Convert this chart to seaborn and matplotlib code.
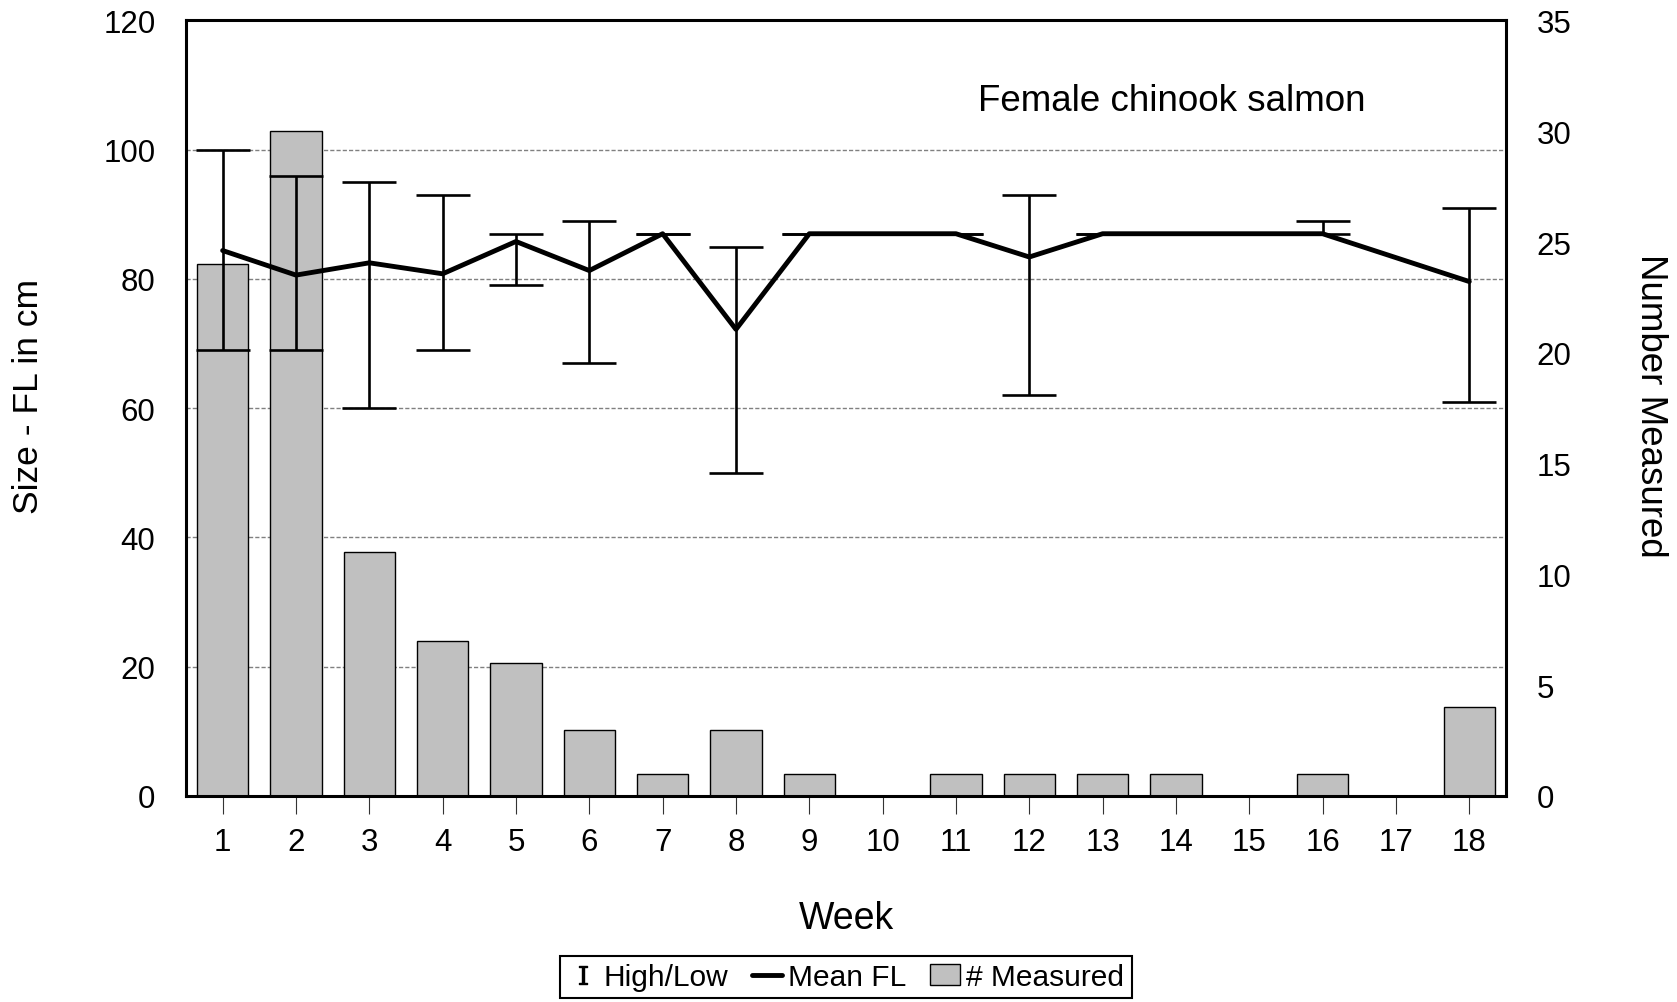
import numpy as np
import pandas as pd
import matplotlib
matplotlib.use("Agg")
import matplotlib.pyplot as plt
import seaborn as sns
from matplotlib.lines import Line2D
from matplotlib.patches import Patch

# Weekly fork-length summary for female chinook salmon
weeks = [str(w) for w in range(1, 19)]
n_measured = [24, 30, 11, 7, 6, 3, 1, 3, 1, 0, 1, 1, 1, 1, 0, 1, 0, 4]
mean_fl = [84.4, 80.6, 82.5, 80.8, 85.8, 81.3, 87, 72.2, 87, np.nan,
           87, 83.4, 87, 87, np.nan, 87, np.nan, 79.6]
high_fl = [100, 96, 95, 93, 87, 89, 87, 85, 87, np.nan,
           87, 93, 87, 87, np.nan, 89, np.nan, 91]
low_fl = [69, 69, 60, 69, 79, 67, 87, 50, 87, np.nan,
          87, 62, 87, 87, np.nan, 87, np.nan, 61]

size_ticks = list(range(0, 121, 20))
count_ticks = list(range(0, 36, 5))

sns.set_theme(style="white")
plt.rcParams["font.family"] = ["Liberation Sans", "DejaVu Sans"]
plt.rcParams["mathtext.fontset"] = "dejavuserif"
plt.rcParams.update({"text.color": "black", "axes.labelcolor": "black",
                     "xtick.color": "black", "ytick.color": "black"})

df = pd.DataFrame({"week": weeks, "n": n_measured, "mean": mean_fl,
                   "high": high_fl, "low": low_fl})
df["pos"] = np.arange(len(df))
valid = df.dropna(subset=["mean"])

fig = plt.figure(figsize=(16.77, 10.03), dpi=100)
ax = fig.add_axes([0.1109, 0.2054, 0.7871, 0.7732])

# size axis (left) carries the dashed grid
ax.set_ylim(0, 120)
ax.set_yticks(size_ticks)
ax.set_yticklabels([str(t) for t in size_ticks], fontsize=22.5)
for t in size_ticks[1:-1]:
    ax.axhline(t, color="#808080", lw=1.0, ls=(0, (3, 1.5)), zorder=0)
ax.tick_params(axis="y", length=0, pad=22)

# counts (right) as bars
ax_cnt = ax.twinx()
sns.barplot(data=df, x="week", y="n", ax=ax_cnt, color="#c0c0c0",
            saturation=1, edgecolor="black", linewidth=1.0, width=0.7)
ax_cnt.set_ylim(0, 35)
ax_cnt.set_yticks(count_ticks)
ax_cnt.set_yticklabels([str(t) for t in count_ticks], fontsize=22.5)
ax_cnt.tick_params(axis="y", length=0, pad=22)
ax_cnt.set_ylabel("Number Measured", fontsize=26.5, rotation=270, va="center")
ax_cnt.yaxis.set_label_coords(1.1098, 0.504)

# mean line and high/low range on top
ax_line = ax.twinx()
ax_line.errorbar(valid["pos"], valid["mean"],
                 yerr=[valid["mean"] - valid["low"], valid["high"] - valid["mean"]],
                 fmt="none", ecolor="black", elinewidth=1.9, capsize=19.3,
                 capthick=1.9, zorder=2)
sns.lineplot(data=valid, x="pos", y="mean", ax=ax_line, color="black",
             lw=3.5, zorder=3)
ax_line.set_ylim(0, 120)
ax_line.yaxis.set_visible(False)

ax.set_xlim(-0.5, 17.5)
ax.set_xticks(range(len(weeks)))
ax.set_xticklabels(weeks, fontsize=22.5)
ax.tick_params(axis="x", direction="out", length=13, width=0.8,
               color="#333333", pad=9, bottom=True)
ax.set_xlabel("Week", fontsize=27, va="center")
ax.xaxis.set_label_coords(0.5, -0.157)
ax.set_ylabel("Size - FL in cm", fontsize=25.5, va="center")
ax.yaxis.set_label_coords(-0.119, 0.516)

for a in (ax, ax_cnt):
    for s in a.spines.values():
        s.set_visible(False)
for s in ax_line.spines.values():
    s.set_visible(True)
    s.set_color("black")
    s.set_linewidth(2.2)

ax.text(0.7465, 0.897, "Female chinook salmon", transform=ax.transAxes,
        ha="center", va="center", fontsize=26.5)

handles = [
    Line2D([], [], ls="none", marker=r"$\mathrm{I}$", color="black",
           markersize=13),
    Line2D([], [], color="black", lw=3.5),
    Patch(facecolor="#c0c0c0", edgecolor="black", linewidth=1.0),
]
leg = fig.legend(handles, ["High/Low", "Mean FL", "# Measured"],
                 loc="center", bbox_to_anchor=(0.5045, 0.0249), ncol=3,
                 fontsize=21.5, frameon=True, fancybox=False, framealpha=1,
                 handlelength=1.0, handletextpad=0.2, columnspacing=0.8,
                 borderpad=0.25, borderaxespad=0)
leg.get_frame().set_edgecolor("black")
leg.get_frame().set_linewidth(1.5)

fig.savefig("out.png", dpi=100, facecolor="white")
